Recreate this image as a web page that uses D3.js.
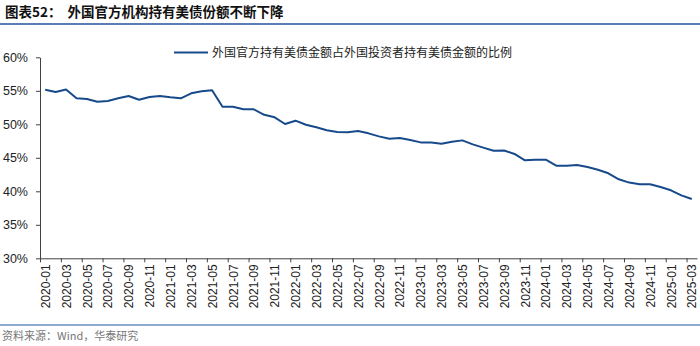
<!DOCTYPE html>
<html><head><meta charset="utf-8">
<script src="https://cdn.jsdelivr.net/npm/d3@7"></script>
<style>body{margin:0;background:#fff}svg{display:block}</style>
</head><body>
<svg id="c" width="700" height="346"></svg>
<script>
const months = [];
for (let yr = 2020; yr <= 2025; yr++) for (let m = 1; m <= 12; m++) {
  if (yr === 2025 && m > 3) break;
  months.push(yr + "-" + String(m).padStart(2, "0"));
}
const shareValues = [
  55.16, 54.82, 55.2, 53.88, 53.78, 53.37, 53.48, 53.88, 54.22, 53.67,
  54.07, 54.22, 54.03, 53.88, 54.63, 54.93, 55.07, 52.63, 52.63, 52.24,
  52.24, 51.42, 51.04, 50.04, 50.54, 49.94, 49.55, 49.1, 48.85, 48.8,
  49.0, 48.65, 48.2, 47.85, 47.95, 47.66, 47.3, 47.3, 47.1, 47.4,
  47.6, 47.0, 46.52, 46.06, 46.1, 45.57, 44.63, 44.72, 44.72, 43.82,
  43.82, 43.92, 43.63, 43.22, 42.69, 41.79, 41.3, 41.05, 41.05, 40.64,
  40.15, 39.4, 38.85
];
const yTicks = [30, 35, 40, 45, 50, 55, 60];
const seriesName = "外国官方持有美债金额占外国投资者持有美债金额的比例";
const title = "图表52：  外国官方机构持有美债份额不断下降";
const source = "资料来源：Wind，华泰研究";

const svg = d3.select("#c");
const L = 40, R = 697, T = 57.3, B = 258.3;
const x = d3.scaleLinear().domain([0, months.length]).range([L, R]);
const y = d3.scaleLinear().domain([30, 60]).range([B, T]);
const lineColor = "#174a8b";
const axisColor = "#404040";

// title
svg.append("text").attr("x", 5).attr("y", 17)
  .attr("font-family", "'Noto Sans CJK SC', sans-serif").attr("font-weight", "bold")
  .attr("font-size", 13.5).attr("fill", "#111").attr("xml:space", "preserve").text(title);
svg.append("line").attr("x1", 0).attr("x2", 700).attr("y1", 24).attr("y2", 24)
  .attr("stroke", "#5a7db3").attr("stroke-width", 2);

// y axis
const yAxis = d3.axisLeft(y).tickValues(yTicks).tickSize(4).tickSizeOuter(0).tickPadding(8)
  .tickFormat(d => d + "%");
const gy = svg.append("g").attr("transform", `translate(${L},0)`).call(yAxis);
gy.select(".domain").attr("stroke", axisColor);
gy.selectAll(".tick line").attr("stroke", axisColor);
gy.selectAll(".tick text").attr("font-family", "'Liberation Sans', Arial, sans-serif")
  .attr("font-size", 12.5).attr("fill", "#222");

// x axis
const xAxis = d3.axisBottom(x).tickValues(d3.range(0, months.length, 2)).tickSize(4)
  .tickSizeOuter(0).tickFormat(i => months[i]);
const gx = svg.append("g").attr("transform", `translate(0,${B})`).call(xAxis);
gx.select(".domain").attr("stroke", axisColor);
gx.selectAll(".tick line").attr("stroke", axisColor);
const halfBand = (x(1) - x(0)) / 2;
gx.selectAll(".tick text")
  .attr("font-family", "'Liberation Sans', Arial, sans-serif").attr("font-size", 12)
  .attr("fill", "#222")
  .attr("text-anchor", "end")
  .attr("transform", `translate(${halfBand},6) rotate(-90)`)
  .attr("x", 0).attr("y", 0).attr("dy", "0.35em");

// line
const line = d3.line().x((d, i) => x(i + 0.5)).y(d => y(d));
svg.append("path").datum(shareValues).attr("d", line)
  .attr("fill", "none").attr("stroke", lineColor).attr("stroke-width", 2)
  .attr("stroke-linejoin", "round");

// legend
svg.append("line").attr("x1", 174).attr("x2", 208).attr("y1", 52.5).attr("y2", 52.5)
  .attr("stroke", lineColor).attr("stroke-width", 2);
svg.append("text").attr("x", 212).attr("y", 57)
  .attr("font-family", "'Noto Sans CJK SC', sans-serif").attr("font-size", 12)
  .attr("fill", "#222").text(seriesName);

// bottom separator and source
svg.append("line").attr("x1", 0).attr("x2", 700).attr("y1", 325).attr("y2", 325)
  .attr("stroke", "#6a8cc0").attr("stroke-width", 1.5);
svg.append("text").attr("x", 2).attr("y", 340)
  .attr("font-family", "'Noto Sans CJK SC', sans-serif").attr("font-size", 11)
  .attr("fill", "#777").text(source);
</script>
</body></html>
